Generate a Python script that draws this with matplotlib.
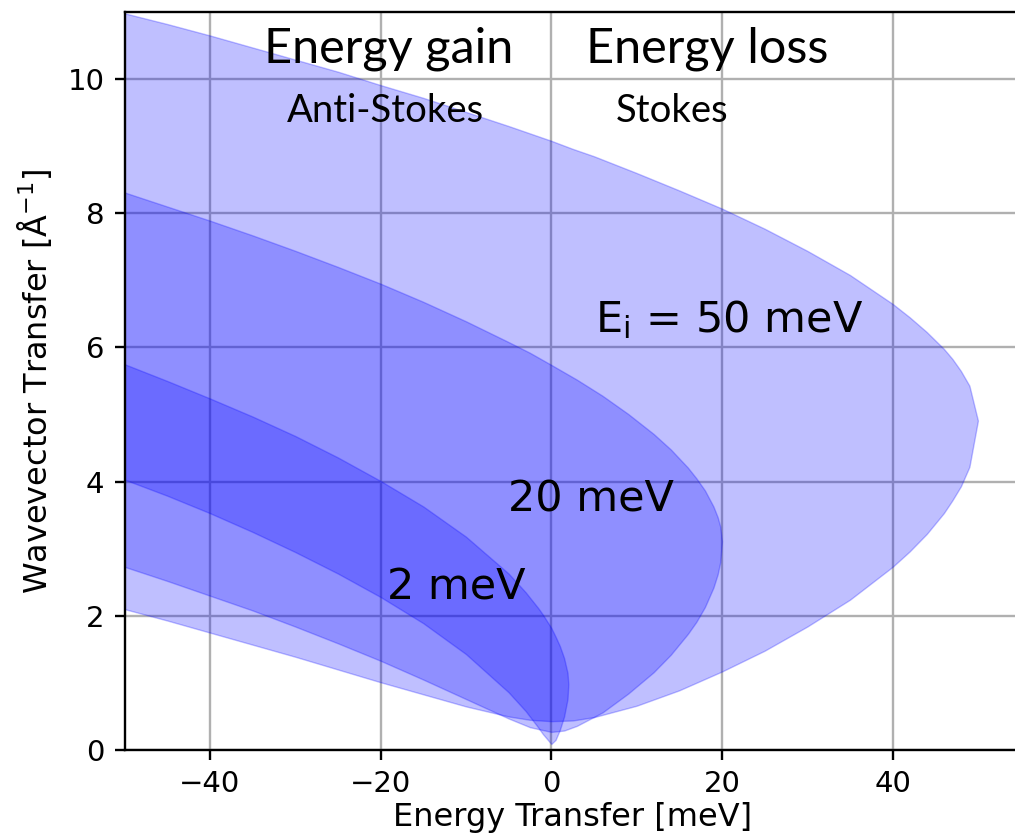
import matplotlib
matplotlib.use('Agg')
import matplotlib.pyplot as plt

# Kinematic range of a spectrometer: Q limits
# for each incident energy, sampled on an energy-transfer grid (meV)

ei_50_energy = [-50, -45, -40, -35, -30, -25, -20, -15, -10, -5, -2.5, 0, 2.5, 5, 10, 15,
                20, 25, 30, 35, 40, 42, 44, 46, 47, 48, 49, 50]
ei_50_q_low = [2.10, 1.93, 1.75, 1.57, 1.39, 1.20, 1.01, 0.83, 0.65, 0.50, 0.45, 0.43, 0.44,
               0.49, 0.66, 0.89, 1.17, 1.48, 1.84, 2.24, 2.73, 2.96, 3.22, 3.53, 3.72,
               3.93, 4.22, 4.91]
ei_50_q_high = [10.98, 10.82, 10.65, 10.47, 10.29, 10.11, 9.91, 9.72, 9.51, 9.30, 9.19, 9.08,
                8.96, 8.85, 8.60, 8.34, 8.07, 7.77, 7.44, 7.08, 6.65, 6.45, 6.23, 5.98,
                5.83, 5.65, 5.43, 4.91]

ei_20_energy = [-50, -45, -40, -35, -30, -25, -20, -15, -10, -5, -2.5, 0, 1.5, 3, 6, 9,
                12, 14, 16, 17, 18, 19, 19.5, 19.8, 20]
ei_20_q_low = [2.73, 2.52, 2.30, 2.08, 1.84, 1.59, 1.33, 1.05, 0.76, 0.47, 0.34, 0.27,
               0.29, 0.36, 0.56, 0.84, 1.16, 1.42, 1.73, 1.91, 2.13, 2.42, 2.62, 2.80, 3.11]
ei_20_q_high = [8.31, 8.10, 7.89, 7.67, 7.44, 7.20, 6.95, 6.68, 6.39, 6.08, 5.92, 5.74,
                5.63, 5.52, 5.28, 5.01, 4.71, 4.48, 4.21, 4.05, 3.87, 3.63, 3.47, 3.33, 3.11]

ei_2_energy = [-50, -45, -40, -35, -30, -25, -20, -15, -10, -5, -3, -1.5, -1, 0,
               0.5, 1, 1.5, 1.9, 2]
ei_2_q_low = [4.03, 3.79, 3.53, 3.25, 2.95, 2.63, 2.28, 1.89, 1.43, 0.86, 0.58,
              0.33, 0.24, 0.09, 0.15, 0.30, 0.50, 0.76, 0.98]
ei_2_q_high = [5.75, 5.50, 5.24, 4.97, 4.68, 4.36, 4.01, 3.63, 3.18, 2.63, 2.35,
               2.11, 2.02, 1.82, 1.69, 1.55, 1.37, 1.15, 0.98]

x_ticks = [-40, -20, 0, 20, 40]
y_ticks = [0, 2, 4, 6, 8, 10]

fig = plt.figure(figsize=(10.15, 8.38), dpi=100)
ax = fig.add_axes([0.1228, 0.105, 0.8827, 0.8807])

for energy, q_low, q_high in [(ei_50_energy, ei_50_q_low, ei_50_q_high),
                              (ei_20_energy, ei_20_q_low, ei_20_q_high),
                              (ei_2_energy, ei_2_q_low, ei_2_q_high)]:
    ax.fill_between(energy, q_low, q_high, color='b', alpha=0.25, linewidth=1.0)

ax.set_xlim(-50, 55)
ax.set_ylim(0, 11)
ax.set_xticks(x_ticks)
ax.set_yticks(y_ticks)
ax.grid(True, color='#b0b0b0', linewidth=1.7)
ax.set_axisbelow(True)
for spine in ax.spines.values():
    spine.set_linewidth(1.7)
ax.tick_params(labelsize=21, length=7.5, width=1.7, pad=7)

ax.set_xlabel('Energy Transfer [meV]', fontsize=23, labelpad=3)
ax.set_ylabel('Wavevector Transfer [Å$^{-1}$]', fontsize=23, labelpad=10)

# slide-style annotations
ax.text(-19.1, 10.45, 'Energy gain', fontsize=35, family='Lato', ha='center', va='center')
ax.text(18.3, 10.45, 'Energy loss', fontsize=35, family='Lato', ha='center', va='center')
ax.text(-19.4, 9.52, 'Anti-Stokes', fontsize=27.5, family='Lato', ha='center', va='center')
ax.text(14.2, 9.52, 'Stokes', fontsize=27.5, family='Lato', ha='center', va='center')

ax.text(20.8, 6.42, r'E$_\mathregular{i}$ = 50 meV', fontsize=31, ha='center', va='center')
ax.text(4.7, 3.73, '20 meV', fontsize=31, ha='center', va='center')
ax.text(-11.1, 2.42, '2 meV', fontsize=31, ha='center', va='center')

fig.savefig('out.png', dpi=100)
